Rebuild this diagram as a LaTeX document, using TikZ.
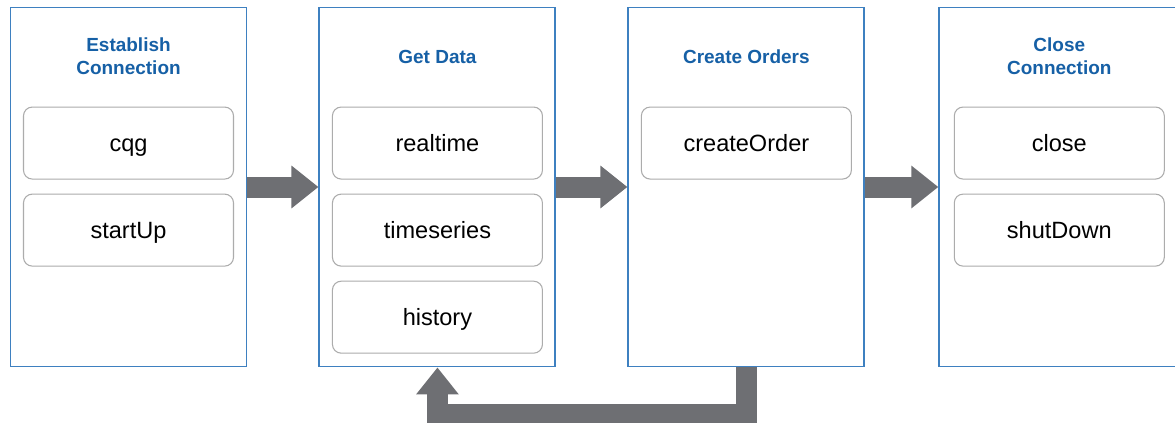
\documentclass[tikz,border=0pt]{standalone}
\usepackage{fontspec}
\setmainfont{Liberation Sans}
\usepackage{xcolor}
\usetikzlibrary{arrows.meta}
\usetikzlibrary{positioning}

\definecolor{panelblue}{RGB}{62,128,192}
\definecolor{titleblue}{RGB}{22,96,166}
\definecolor{arrowgray}{RGB}{110,111,115}
\definecolor{boxgray}{RGB}{172,172,172}

\begin{document}
\begin{tikzpicture}[
                    node distance = 1.42cm, % gap between panels
                    semithick % line style
            ]

            \tikzstyle{panel}=[
                draw = panelblue,
                line width = 1.1pt,
                fill = white,
                minimum width = 4.72cm,
                minimum height = 7.18cm
            ]
            \tikzstyle{title}=[
                text = titleblue,
                font = \fontsize{10.8}{13.2}\selectfont\bfseries,
                align = center,
                yshift = -1cm
            ]
            \tikzstyle{item}=[
                draw = boxgray,
                line width = 0.6pt,
                rounded corners = 5pt,
                minimum width = 4.2cm,
                minimum height = 1.44cm,
                text height = 9.6pt,
                text depth = 0pt,
                font = \fontsize{13.4}{16}\selectfont
            ]
            \tikzstyle{bigarrow}=[
                draw = arrowgray,
                line width = 0.42cm,
                -{Triangle[width=0.82cm, length=0.54cm]}
            ]

            \clip (0,0) rectangle (23.5,-8.46);

            \node[panel] (P1) at (2.57,-3.74) {};
            \node[panel] (P2) [right=of P1] {};
            \node[panel] (P3) [right=of P2] {};
            \node[panel, minimum width=4.8cm] (P4) [right=1.46cm of P3] {};

            \node[title] (T1) at (P1.north) {Establish\\Connection};
            \node[title] (T2) at (P2.north) {Get Data};
            \node[title] (T3) at (P3.north) {Create Orders};
            \node[title] (T4) at (P4.north) {Close\\Connection};

            \node[item] (B11) [below=2cm of P1.north] {cqg};
            \node[item] (B12) [below=0.28cm of B11] {startUp};
            \node[item] (B21) [below=2cm of P2.north] {realtime};
            \node[item] (B22) [below=0.28cm of B21] {timeseries};
            \node[item] (B23) [below=0.28cm of B22] {history};
            \node[item] (B31) [below=2cm of P3.north] {createOrder};
            \node[item] (B41) [below=2cm of P4.north] {close};
            \node[item] (B42) [below=0.28cm of B41] {shutDown};

            \draw[bigarrow] (P1) -- (P2);
            \draw[bigarrow] (P2) -- (P3);
            \draw[bigarrow] (P3) -- (P4);
            \draw[bigarrow] (P3.south) -- ++(0,-0.94) -| (P2.south);
        \end{tikzpicture}
\end{document}
